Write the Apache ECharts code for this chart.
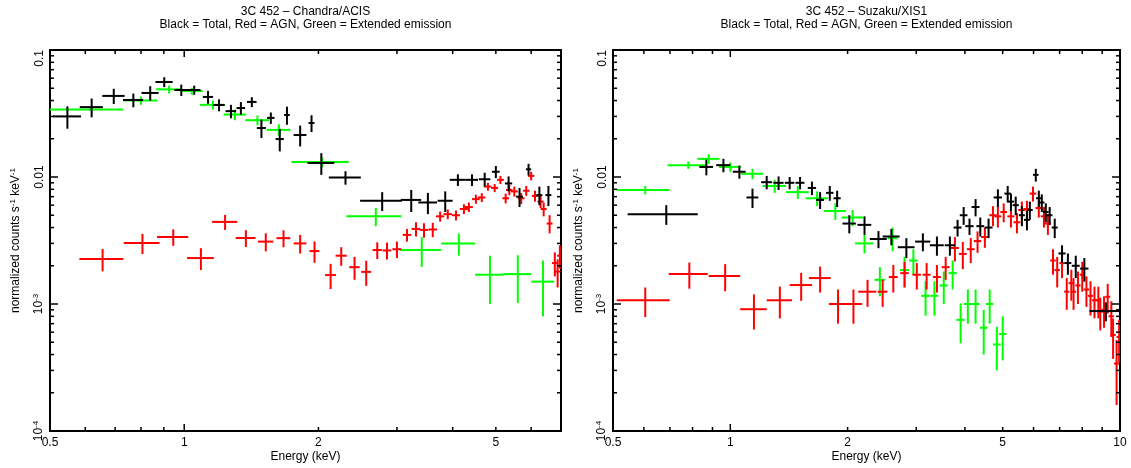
<!DOCTYPE html>
<html>
<head>
<meta charset="utf-8">
<script src="https://cdn.jsdelivr.net/npm/echarts@6/dist/echarts.min.js"></script>
<style>
html, body { margin: 0; padding: 0; background: #fff; }
#chart { width: 1131px; height: 468px; }
</style>
</head>
<body>
<div id="chart"></div>
<script>
// every point: [energy keV, half bin width, normalized counts, error]
var chandraTotal = [
  [0.547, 0.040, 0.0300, 0.0060], [0.620, 0.037, 0.0355, 0.0060], [0.695, 0.040, 0.0435, 0.0060],
  [0.769, 0.040, 0.0404, 0.0050], [0.839, 0.037, 0.0459, 0.0060], [0.902, 0.040, 0.0560, 0.0050],
  [0.985, 0.035, 0.0484, 0.0050], [1.053, 0.035, 0.0484, 0.0040], [1.131, 0.030, 0.0427, 0.0050],
  [1.197, 0.035, 0.0369, 0.0040], [1.273, 0.035, 0.0330, 0.0040], [1.340, 0.030, 0.0349, 0.0040],
  [1.418, 0.035, 0.0390, 0.0035], [1.490, 0.035, 0.0243, 0.0040], [1.564, 0.030, 0.0292, 0.0030],
  [1.638, 0.035, 0.0199, 0.0040], [1.700, 0.025, 0.0308, 0.0050], [1.820, 0.060, 0.0214, 0.0040],
  [1.930, 0.030, 0.0266, 0.0040], [2.030, 0.140, 0.0129, 0.0025], [2.300, 0.190, 0.0099, 0.0012],
  [2.780, 0.300, 0.0065, 0.0011], [3.230, 0.170, 0.0066, 0.0013], [3.520, 0.170, 0.0063, 0.0012],
  [3.850, 0.150, 0.0065, 0.0012], [4.110, 0.170, 0.0095, 0.0010], [4.420, 0.140, 0.0095, 0.0010],
  [4.720, 0.140, 0.0096, 0.0012], [5.000, 0.100, 0.0110, 0.0012], [5.340, 0.100, 0.0089, 0.0012],
  [5.650, 0.100, 0.0070, 0.0012], [5.920, 0.080, 0.0115, 0.0012], [6.260, 0.100, 0.0072, 0.0012],
  [6.560, 0.100, 0.0072, 0.0013]
];
var chandraAgn = [
  [0.656, 0.074, 0.00226, 0.00045], [0.806, 0.074, 0.00302, 0.00055], [0.945, 0.076, 0.00337, 0.00050],
  [1.090, 0.075, 0.00230, 0.00045], [1.235, 0.080, 0.00443, 0.00060], [1.375, 0.070, 0.00331, 0.00050],
  [1.524, 0.060, 0.00310, 0.00050], [1.670, 0.060, 0.00330, 0.00050], [1.820, 0.060, 0.00300, 0.00050],
  [1.960, 0.050, 0.00261, 0.00050], [2.130, 0.060, 0.00169, 0.00038], [2.250, 0.065, 0.00240, 0.00040],
  [2.410, 0.065, 0.00195, 0.00040], [2.560, 0.065, 0.00179, 0.00040], [2.710, 0.065, 0.00266, 0.00040],
  [2.850, 0.065, 0.00264, 0.00040], [3.000, 0.070, 0.00270, 0.00040], [3.160, 0.070, 0.00350, 0.00040],
  [3.310, 0.075, 0.00390, 0.00050], [3.450, 0.075, 0.00383, 0.00050], [3.610, 0.080, 0.00386, 0.00050],
  [3.750, 0.080, 0.00490, 0.00045], [3.900, 0.085, 0.00510, 0.00045], [4.070, 0.085, 0.00500, 0.00045],
  [4.240, 0.090, 0.00560, 0.00050], [4.350, 0.090, 0.00580, 0.00050], [4.510, 0.090, 0.00670, 0.00055],
  [4.650, 0.090, 0.00690, 0.00055], [4.800, 0.090, 0.00840, 0.00060], [4.970, 0.090, 0.00820, 0.00060],
  [5.120, 0.090, 0.00950, 0.00070], [5.260, 0.090, 0.00680, 0.00060], [5.360, 0.090, 0.00790, 0.00070],
  [5.500, 0.100, 0.00770, 0.00070], [5.700, 0.100, 0.00680, 0.00070], [5.850, 0.100, 0.00780, 0.00070],
  [6.000, 0.100, 0.01020, 0.00080], [6.120, 0.100, 0.00710, 0.00070], [6.300, 0.100, 0.00640, 0.00070],
  [6.400, 0.100, 0.00560, 0.00070], [6.600, 0.100, 0.00430, 0.00070], [6.780, 0.100, 0.00210, 0.00045],
  [6.880, 0.100, 0.00180, 0.00045], [6.960, 0.100, 0.00240, 0.00050]
];
var chandraExt = [
  [0.615, 0.115, 0.0340, 0.0008], [0.800, 0.070, 0.0400, 0.0030], [0.925, 0.060, 0.0490, 0.0035],
  [1.040, 0.060, 0.0475, 0.0030], [1.160, 0.075, 0.0370, 0.0030], [1.300, 0.075, 0.0310, 0.0030],
  [1.460, 0.090, 0.0280, 0.0025], [1.630, 0.100, 0.0235, 0.0025], [2.040, 0.300, 0.0131, 0.0012],
  [2.690, 0.380, 0.0049, 0.0008], [3.410, 0.360, 0.00266, 0.0007], [4.130, 0.360, 0.0030, 0.0006],
  [4.850, 0.360, 0.0017, 0.0007], [5.600, 0.400, 0.00172, 0.0007], [6.380, 0.380, 0.0015, 0.0007]
];
var suzakuTotal = [
  [0.685, 0.140, 0.0051, 0.0009], [0.868, 0.035, 0.0120, 0.0017], [0.960, 0.040, 0.0124, 0.0015],
  [1.055, 0.040, 0.0110, 0.0013], [1.140, 0.040, 0.0069, 0.0012], [1.240, 0.040, 0.0091, 0.0011],
  [1.330, 0.040, 0.0090, 0.0011], [1.420, 0.040, 0.0090, 0.0010], [1.510, 0.040, 0.0090, 0.0010],
  [1.620, 0.040, 0.0082, 0.0010], [1.700, 0.040, 0.0066, 0.0010], [1.800, 0.040, 0.0075, 0.0010],
  [1.880, 0.040, 0.0068, 0.0010], [2.020, 0.080, 0.0043, 0.0007], [2.210, 0.090, 0.0042, 0.0007],
  [2.400, 0.120, 0.00325, 0.0005], [2.590, 0.130, 0.0034, 0.0005], [2.830, 0.140, 0.0028, 0.0005],
  [3.120, 0.140, 0.0031, 0.0005], [3.390, 0.140, 0.0029, 0.0005], [3.660, 0.110, 0.0029, 0.0005],
  [3.830, 0.090, 0.0040, 0.0006], [3.970, 0.090, 0.0050, 0.0008], [4.110, 0.100, 0.0041, 0.0006],
  [4.260, 0.100, 0.0058, 0.0009], [4.380, 0.100, 0.0041, 0.0007], [4.600, 0.110, 0.0040, 0.0007],
  [4.860, 0.120, 0.0069, 0.0011], [5.150, 0.100, 0.0074, 0.0011], [5.250, 0.100, 0.0064, 0.0010],
  [5.400, 0.100, 0.0060, 0.0010], [5.600, 0.100, 0.0050, 0.0009], [5.770, 0.100, 0.0046, 0.0008],
  [5.870, 0.100, 0.0055, 0.0009], [6.080, 0.100, 0.0104, 0.0012], [6.190, 0.100, 0.0068, 0.0010],
  [6.300, 0.100, 0.0063, 0.0010], [6.450, 0.110, 0.0053, 0.0009], [6.600, 0.110, 0.0050, 0.0008],
  [6.800, 0.120, 0.0040, 0.0007], [7.100, 0.150, 0.0025, 0.0004], [7.350, 0.150, 0.0021, 0.0004],
  [7.700, 0.180, 0.0020, 0.0004], [8.100, 0.200, 0.0019, 0.0004], [9.200, 0.850, 0.00088, 0.00015]
];
var suzakuAgn = [
  [0.605, 0.094, 0.00107, 0.00028], [0.785, 0.090, 0.00172, 0.00040], [0.970, 0.090, 0.00166, 0.00040],
  [1.150, 0.090, 0.00091, 0.00028], [1.340, 0.100, 0.00107, 0.00030], [1.520, 0.100, 0.00141, 0.00035],
  [1.700, 0.110, 0.00160, 0.00037], [1.890, 0.100, 0.00100, 0.00030], [2.070, 0.110, 0.00100, 0.00030],
  [2.250, 0.120, 0.00125, 0.00030], [2.460, 0.070, 0.00125, 0.00030], [2.620, 0.070, 0.00163, 0.00040],
  [2.800, 0.070, 0.00175, 0.00040], [3.010, 0.075, 0.00170, 0.00040], [3.190, 0.075, 0.00170, 0.00040],
  [3.390, 0.080, 0.00163, 0.00040], [3.570, 0.085, 0.00195, 0.00040], [3.770, 0.090, 0.00276, 0.00060],
  [3.950, 0.090, 0.00248, 0.00060], [4.140, 0.095, 0.00270, 0.00060], [4.310, 0.095, 0.00313, 0.00060],
  [4.500, 0.100, 0.00337, 0.00060], [4.720, 0.100, 0.00500, 0.00090], [4.860, 0.100, 0.00490, 0.00090],
  [5.030, 0.100, 0.00530, 0.00090], [5.250, 0.110, 0.00490, 0.00090], [5.440, 0.110, 0.00440, 0.00080],
  [5.600, 0.120, 0.00550, 0.00090], [5.770, 0.120, 0.00560, 0.00090], [5.980, 0.120, 0.00740, 0.00100],
  [6.190, 0.120, 0.00570, 0.00090], [6.380, 0.120, 0.00490, 0.00090], [6.530, 0.120, 0.00430, 0.00080],
  [6.730, 0.110, 0.00220, 0.00050], [6.900, 0.110, 0.00185, 0.00050], [7.100, 0.110, 0.00210, 0.00050],
  [7.300, 0.110, 0.00125, 0.00035], [7.500, 0.120, 0.00146, 0.00040], [7.600, 0.120, 0.00125, 0.00035],
  [7.800, 0.120, 0.00140, 0.00040], [8.000, 0.120, 0.00170, 0.00045], [8.200, 0.130, 0.00130, 0.00035],
  [8.400, 0.130, 0.00116, 0.00035], [8.600, 0.130, 0.00107, 0.00030], [8.800, 0.140, 0.00107, 0.00030],
  [8.900, 0.140, 0.00087, 0.00025], [9.100, 0.140, 0.00090, 0.00025], [9.300, 0.140, 0.00114, 0.00030],
  [9.500, 0.150, 0.00080, 0.00025], [9.600, 0.150, 0.00057, 0.00020], [9.800, 0.150, 0.00034, 0.00018],
  [9.950, 0.150, 0.00055, 0.00020]
];
var suzakuExt = [
  [0.605, 0.094, 0.0079, 0.0006], [0.780, 0.090, 0.0124, 0.0008], [0.880, 0.057, 0.0139, 0.0012],
  [1.000, 0.065, 0.0120, 0.0010], [1.140, 0.074, 0.0106, 0.0010], [1.300, 0.090, 0.0085, 0.0010],
  [1.490, 0.100, 0.0076, 0.0009], [1.670, 0.110, 0.0068, 0.0009], [1.860, 0.120, 0.0054, 0.0008],
  [2.060, 0.130, 0.0048, 0.0007], [2.210, 0.120, 0.0030, 0.0005], [2.420, 0.075, 0.00155, 0.0004],
  [2.610, 0.077, 0.0033, 0.0007], [2.800, 0.075, 0.00185, 0.0005], [2.950, 0.075, 0.0022, 0.0005],
  [3.170, 0.080, 0.00116, 0.00035], [3.340, 0.080, 0.00116, 0.00035], [3.530, 0.085, 0.0014, 0.0004],
  [3.720, 0.090, 0.00175, 0.00045], [3.900, 0.095, 0.00075, 0.00026], [4.070, 0.095, 0.0010, 0.0003],
  [4.260, 0.100, 0.0010, 0.0003], [4.470, 0.100, 0.00065, 0.00025], [4.630, 0.100, 0.0010, 0.0003],
  [4.830, 0.110, 0.00048, 0.00018], [5.000, 0.110, 0.00058, 0.00022]
];

var chandraXLabels = [0.5, 1, 2, 5];
var suzakuXLabels = [0.5, 1, 2, 5, 10];
var chandraXMajor = [1];
var suzakuXMajor = [1, 10];
var chandraXMinor = [0.6, 0.7, 0.8, 0.9, 2, 3, 4, 5, 6, 7];
var suzakuXMinor = [0.6, 0.7, 0.8, 0.9, 2, 3, 4, 5, 6, 7, 8, 9];
var yMajor = [0.0001, 0.001, 0.01, 0.1];
var yMinor = [];
[0.0001, 0.001, 0.01].forEach(function (d) {
  for (var k = 2; k <= 9; k++) yMinor.push(d * k);
});
var yLabelValues = [0.0001, 0.001, 0.01, 0.1];
var yLabelTexts = ['{b|10}{s|-4}', '{b|10}{s|-3}', '0.01', '0.1'];

var FONT = '"Liberation Sans", Arial, Helvetica, sans-serif';
var chart = echarts.init(document.getElementById('chart'));

function crosses(data, color, idx) {
  return {
    type: 'custom',
    xAxisIndex: idx,
    yAxisIndex: idx,
    clip: true,
    silent: true,
    data: data,
    encode: { x: 0, y: 2 },
    renderItem: function (params, api) {
      var e = api.value(0), de = api.value(1), c = api.value(2), dc = api.value(3);
      var l = api.coord([e - de, c]);
      var r = api.coord([e + de, c]);
      var lo = c - dc > 0 ? c - dc : 0.00001;
      var t = api.coord([e, c + dc]);
      var b = api.coord([e, lo]);
      var st = { stroke: color, lineWidth: 2 };
      return {
        type: 'group',
        children: [
          { type: 'line', shape: { x1: l[0], y1: l[1], x2: r[0], y2: r[1] }, style: st },
          { type: 'line', shape: { x1: t[0], y1: t[1], x2: b[0], y2: b[1] }, style: st }
        ]
      };
    }
  };
}

function xTicks(major, minor, idx) {
  var d = major.map(function (v) { return [v, 0.01, 7]; })
    .concat(minor.map(function (v) { return [v, 0.01, 4]; }));
  return {
    type: 'custom', xAxisIndex: idx, yAxisIndex: idx, silent: true, clip: false,
    data: d, encode: { x: 0, y: 1 }, z: 5,
    renderItem: function (params, api) {
      var cs = params.coordSys;
      var p = api.coord([api.value(0), api.value(1)]);
      var len = api.value(2);
      var st = { stroke: '#000', lineWidth: 1.5 };
      var bot = cs.y + cs.height;
      return {
        type: 'group',
        children: [
          { type: 'line', shape: { x1: p[0], y1: bot, x2: p[0], y2: bot - len }, style: st },
          { type: 'line', shape: { x1: p[0], y1: cs.y, x2: p[0], y2: cs.y + len }, style: st }
        ]
      };
    }
  };
}

function yTicks(idx) {
  var d = yMajor.map(function (v) { return [1, v, 8]; })
    .concat(yMinor.map(function (v) { return [1, v, 4]; }));
  return {
    type: 'custom', xAxisIndex: idx, yAxisIndex: idx, silent: true, clip: false,
    data: d, encode: { x: 0, y: 1 }, z: 5,
    renderItem: function (params, api) {
      var cs = params.coordSys;
      var p = api.coord([api.value(0), api.value(1)]);
      var len = api.value(2);
      var st = { stroke: '#000', lineWidth: 1.5 };
      var rt = cs.x + cs.width;
      return {
        type: 'group',
        children: [
          { type: 'line', shape: { x1: cs.x, y1: p[1], x2: cs.x + len, y2: p[1] }, style: st },
          { type: 'line', shape: { x1: rt, y1: p[1], x2: rt - len, y2: p[1] }, style: st }
        ]
      };
    }
  };
}

function xLabels(values, idx) {
  return {
    type: 'custom', xAxisIndex: idx, yAxisIndex: idx, silent: true, clip: false,
    data: values.map(function (v) { return [v, 0.0001]; }), encode: { x: 0, y: 1 },
    renderItem: function (params, api) {
      var p = api.coord([api.value(0), api.value(1)]);
      return {
        type: 'text',
        x: p[0], y: p[1] + 6,
        style: {
          text: String(api.value(0)), font: '12px ' + FONT, fill: '#000',
          align: 'center', verticalAlign: 'top'
        }
      };
    }
  };
}

function yLabels(idx) {
  return {
    type: 'custom', xAxisIndex: idx, yAxisIndex: idx, silent: true, clip: false,
    data: yLabelValues.map(function (v, i) { return [1, v, i]; }), encode: { x: 0, y: 1 },
    renderItem: function (params, api) {
      var cs = params.coordSys;
      var i = api.value(2);
      var p = api.coord([api.value(0), api.value(1)]);
      return {
        type: 'text',
        x: cs.x - 4, y: p[1],
        rotation: Math.PI / 2,
        style: {
          text: yLabelTexts[i], font: '12px ' + FONT, fill: '#000',
          align: i === yLabelTexts.length - 1 ? 'right' : 'center',
          verticalAlign: 'bottom',
          rich: {
            b: { fontSize: 12, fontFamily: FONT, lineHeight: 14 },
            s: { fontSize: 8, fontFamily: FONT, verticalAlign: 'top', lineHeight: 14 }
          }
        }
      };
    }
  };
}

var yName = 'normalized counts s{s|-1} keV{s|-1}';
var nameStyle = {
  fontSize: 12, fontFamily: FONT, color: '#000', lineHeight: 14,
  rich: { s: { fontSize: 8, fontFamily: FONT, color: '#000', verticalAlign: 'top', lineHeight: 14 } }
};

function xAxis(idx, max) {
  return {
    type: 'log', logBase: 10, gridIndex: idx, min: 0.5, max: max,
    axisLine: { show: false }, axisTick: { show: false }, axisLabel: { show: false },
    splitLine: { show: false },
    name: 'Energy (keV)', nameLocation: 'middle', nameGap: 20,
    nameTextStyle: { fontSize: 12, fontFamily: FONT, color: '#000' }
  };
}
function yAxis(idx) {
  return {
    type: 'log', logBase: 10, gridIndex: idx, min: 0.0001, max: 0.1,
    axisLine: { show: false }, axisTick: { show: false }, axisLabel: { show: false },
    splitLine: { show: false },
    name: yName, nameLocation: 'middle', nameGap: 27, nameTextStyle: nameStyle
  };
}

function title(x, line1) {
  return {
    type: 'text', x: x, y: 5,
    style: {
      text: line1 + '\nBlack = Total, Red = AGN, Green = Extended emission',
      font: '12px ' + FONT, fill: '#000', align: 'center', verticalAlign: 'top', lineHeight: 13
    }
  };
}

chart.setOption({
  animation: false,
  backgroundColor: '#fff',
  grid: [
    { left: 50, top: 50, width: 511, height: 381, show: true, borderColor: '#000', borderWidth: 2, backgroundColor: 'transparent' },
    { left: 613, top: 50, width: 507, height: 381, show: true, borderColor: '#000', borderWidth: 2, backgroundColor: 'transparent' }
  ],
  xAxis: [xAxis(0, 7), xAxis(1, 10)],
  yAxis: [yAxis(0), yAxis(1)],
  graphic: [
    title(305.5, '3C 452 \u2013 Chandra/ACIS'),
    title(866.5, '3C 452 \u2013 Suzaku/XIS1')
  ],
  series: [
    crosses(chandraExt, '#00ff00', 0),
    crosses(chandraAgn, '#ff0000', 0),
    crosses(chandraTotal, '#000000', 0),
    crosses(suzakuExt, '#00ff00', 1),
    crosses(suzakuAgn, '#ff0000', 1),
    crosses(suzakuTotal, '#000000', 1),
    xTicks(chandraXMajor, chandraXMinor, 0),
    xTicks(suzakuXMajor, suzakuXMinor, 1),
    yTicks(0),
    yTicks(1),
    xLabels(chandraXLabels, 0),
    xLabels(suzakuXLabels, 1),
    yLabels(0),
    yLabels(1)
  ]
});
window.addEventListener('resize', function () {
  chart.resize();
});
</script>
</body>
</html>
